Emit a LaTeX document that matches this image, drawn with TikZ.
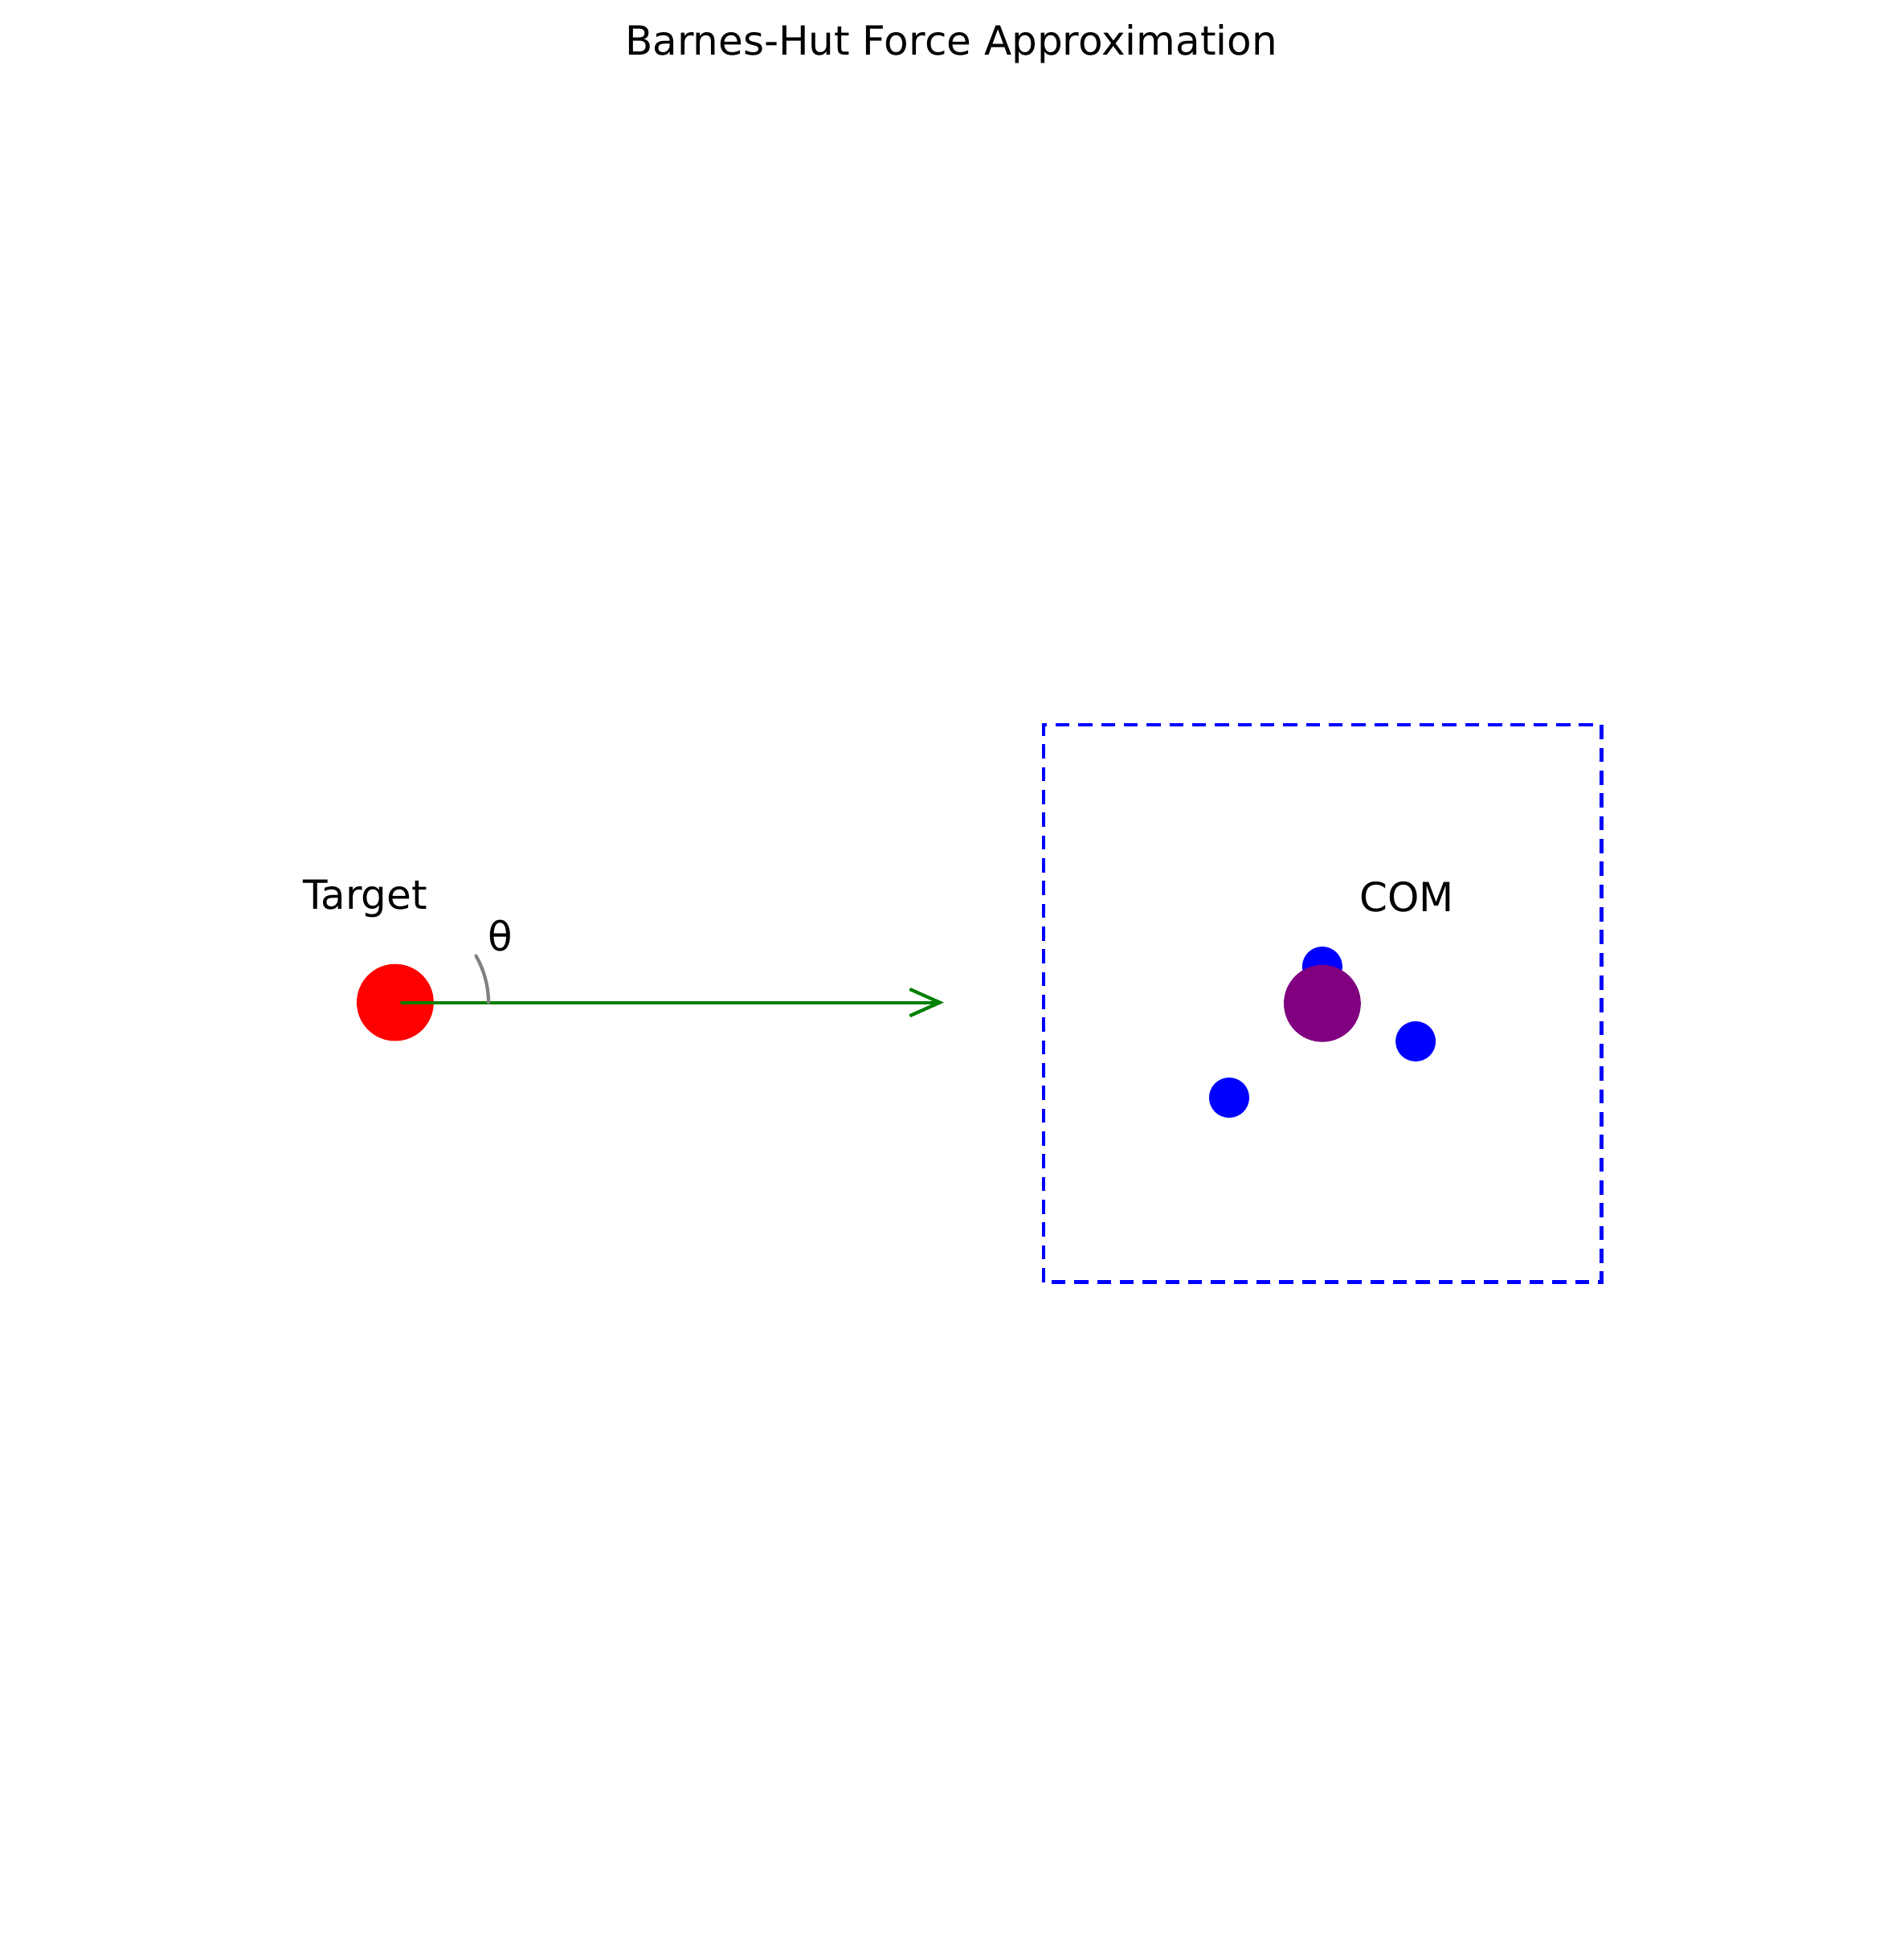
\documentclass[tikz,border=0pt]{standalone}
\usepackage{fontspec}
\setmainfont{DejaVu Sans}
\usetikzlibrary{arrows.meta}
\definecolor{compurple}{RGB}{128,0,128}

\begin{document}
\begin{tikzpicture}[>={Straight Barb[length=9pt,width=8pt]},font=\fontsize{12}{14}\selectfont,line cap=round,
  body/.style={circle,inner sep=0pt,minimum size=#1},
  force/.style={->,green!50!black,line width=1pt},
  cell/.style={blue,line width=1.1pt,dash pattern=on 4.2pt off 2.6pt,line cap=butt}]
\useasboundingbox (0,0) rectangle (19.993,20.525);
\node (title) at (9.988,20.06) {Barnes-Hut Force Approximation};
% target body and force on it
\node[body=23pt,fill=red] (target) at (4.150,10.0) {};
\node (tlabel) at (3.835,11.090) {Target};
\coordinate (tip) at (9.912,10.0);
\draw[force] ([xshift=2pt]target.center) -- (tip);
\draw[gray,line width=1pt] ([shift={(0:0.979)}]target.center) arc[start angle=0,end angle=30,radius=0.979];
\node (theta) at (5.250,10.700) {θ};
% distant cell
\draw[cell] (10.960,7.065) rectangle (16.815,12.916);
\node[body=12pt,fill=blue] (b1) at (13.885,10.376) {};
\node[body=12pt,fill=blue] (b2) at (14.865,9.592) {};
\node[body=12pt,fill=blue] (b3) at (12.907,9.001) {};
\node[body=23pt,fill=compurple] (com) at (13.885,9.990) {};
\node (clabel) at (14.775,11.110) {COM};
\end{tikzpicture}
\end{document}
